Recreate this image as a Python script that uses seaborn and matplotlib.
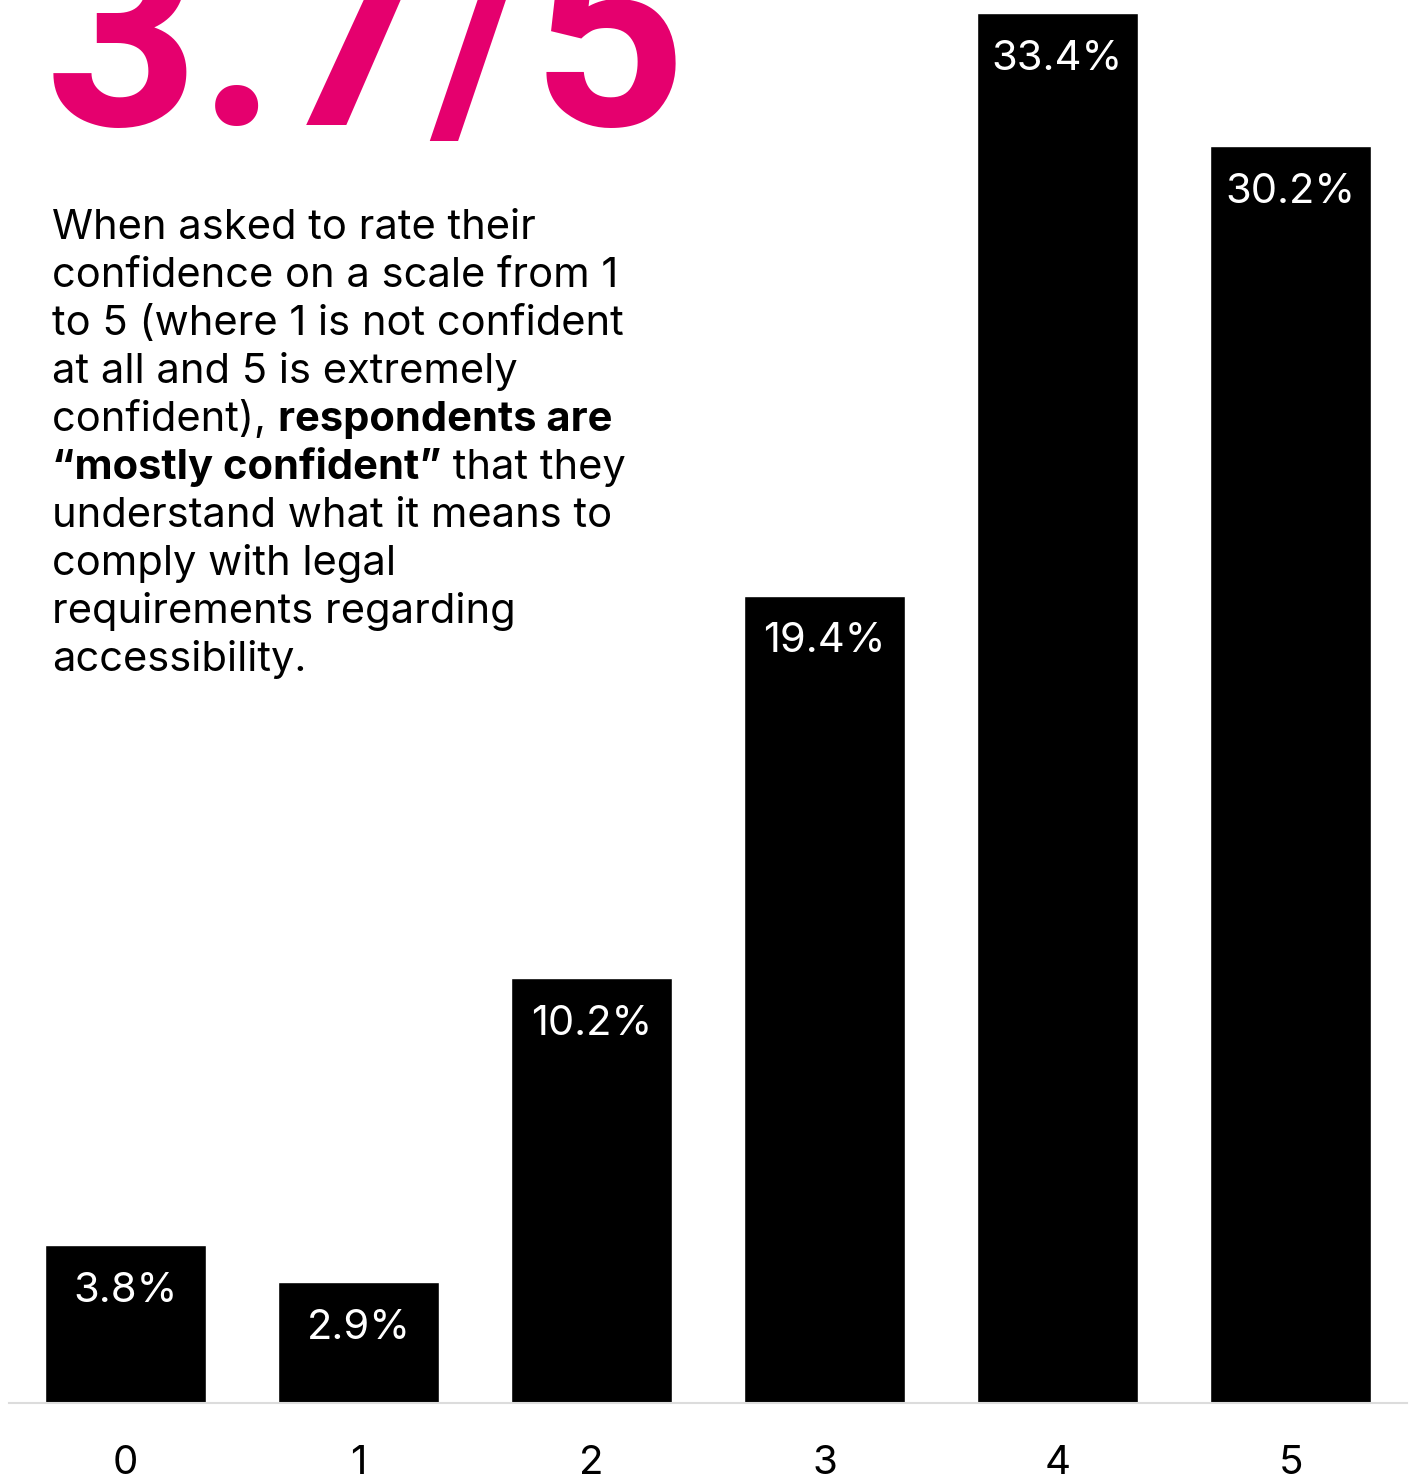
import matplotlib
matplotlib.use("Agg")
import matplotlib.pyplot as plt
import seaborn as sns
import pandas as pd

# Confidence ratings and share of respondents (%)
ratings = ["0", "1", "2", "3", "4", "5"]
shares = [3.8, 2.9, 10.2, 19.4, 33.4, 30.2]
value_labels = ["3.8%", "2.9%", "10.2%", "19.4%", "33.4%", "30.2%"]
headline = "3.7/5"

PINK = "#E5006E"
W, H, DPI = 1413, 1479, 100

sns.set_theme(style="white")
plt.rcParams["font.family"] = ["Inter", "DejaVu Sans"]

fig = plt.figure(figsize=(W / DPI, H / DPI), dpi=DPI)
ax = fig.add_axes([9 / W, 1 - 1403 / H, (1407 - 9) / W, 1403 / H])

df = pd.DataFrame({"rating": ratings, "share": shares})
sns.barplot(data=df, x="rating", y="share", color="black", saturation=1,
            width=0.69, ax=ax)

ax.set_xlim(-0.5, 5.5)
ax.set_ylim(0, 1403 / 41.62)
ax.set_xlabel("")
ax.set_ylabel("")
ax.set_yticks([])
for side in ("left", "right", "top"):
    ax.spines[side].set_visible(False)
ax.spines["bottom"].set_color("#dcdcdc")
ax.spines["bottom"].set_linewidth(1.5)
ax.tick_params(axis="x", length=0, pad=30, labelsize=29, labelcolor="black")

# value labels inside the top of each bar
for i, (v, lab) in enumerate(zip(shares, value_labels)):
    ax.annotate(lab, (i, v), xytext=(0, -33), textcoords="offset points",
                ha="center", va="center", color="white", fontsize=30)

# headline score
fig.text(45 / W, 1 - 125 / H, headline, color=PINK, fontsize=194,
         fontweight="bold", ha="left", va="baseline",
         family=["Roboto", "DejaVu Sans"])

# description paragraph; each line is a list of (text, bold) runs
lines = [
    [("When asked to rate their", False)],
    [("confidence on a scale from 1", False)],
    [("to 5 (where 1 is not confident", False)],
    [("at all and 5 is extremely", False)],
    [("confident), ", False), ("respondents are", True)],
    [("\u201cmostly confident\u201d", True), (" that they", False)],
    [("understand what it means to", False)],
    [("comply with legal", False)],
    [("requirements regarding", False)],
    [("accessibility.", False)],
]
renderer = fig.canvas.get_renderer()
x0 = 52
for k, runs in enumerate(lines):
    y = 1 - (239 + 48 * k) / H
    x = x0
    for txt, bold in runs:
        t = fig.text(x / W, y, txt, fontsize=30, color="black",
                     fontweight="bold" if bold else "normal",
                     ha="left", va="baseline")
        bb = t.get_window_extent(renderer=renderer)
        x = bb.x1

fig.savefig("out.png", dpi=DPI)
